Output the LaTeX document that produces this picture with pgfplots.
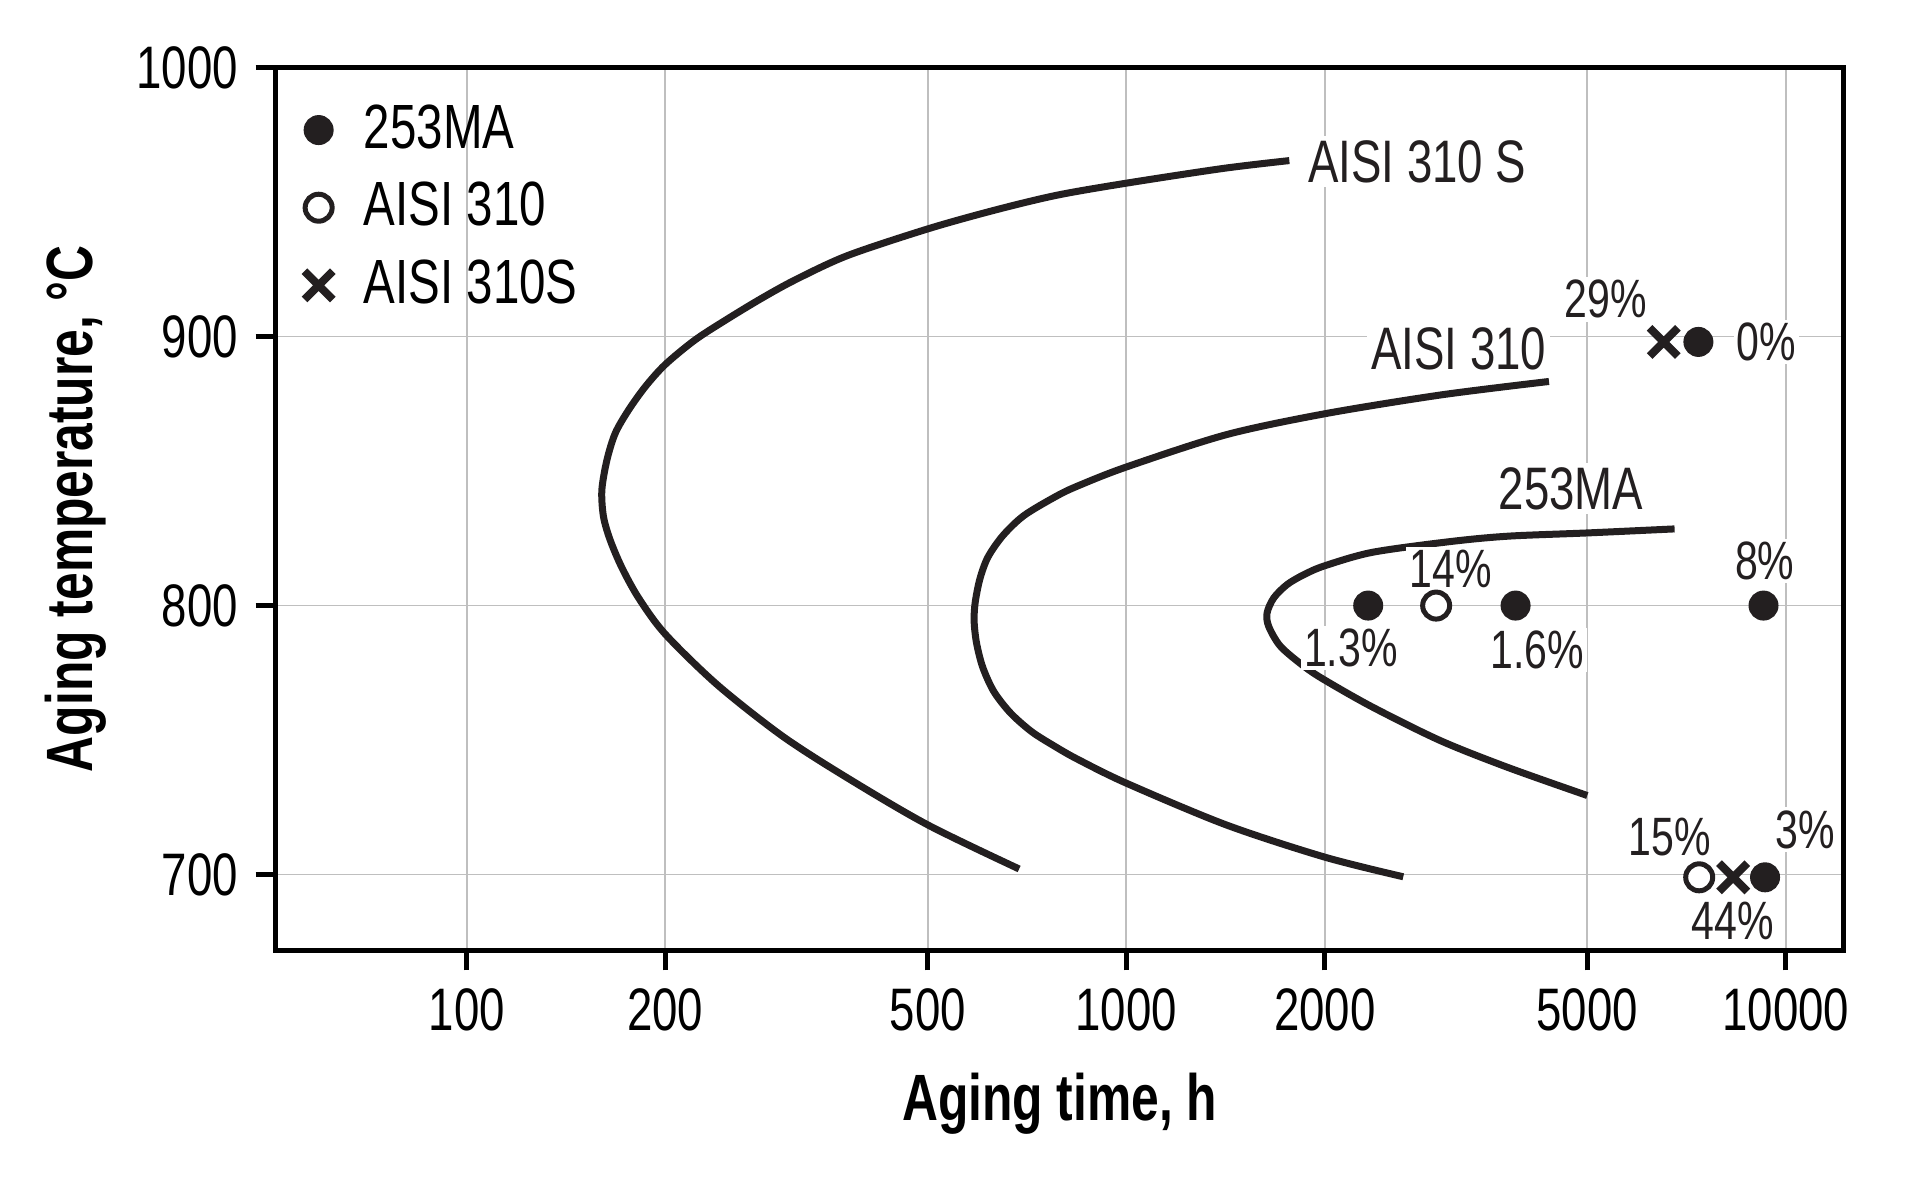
\documentclass[border=0pt]{standalone}
\usepackage{fontspec}
\setmainfont{Liberation Sans}[FakeStretch=0.76]
\usepackage{pgfplots}
\pgfplotsset{compat=1.18}
\definecolor{ink}{RGB}{35,31,32}
\begin{document}
\begin{tikzpicture}
\path[use as bounding box] (-55.1pt,-48.4pt) rectangle (328.9pt,190.1pt);
\begin{axis}[
  anchor=south west, at={(0pt,0pt)},
  width=313.7pt, height=176.6pt, scale only axis,
  xmode=log, xmin=51.3, xmax=12250, ymin=671.8, ymax=1000,
  xtick={100,200,500,1000,2000,5000,10000},
  xticklabels={100,200,500,1000,2000,5000,10000},
  ytick={700,800,900,1000}, yticklabels={700,800,900,1000},
  minor xtick={}, minor ytick={},
  tick pos=left, tick align=outside, major tick length=4pt,
  major tick style={black, line width=1pt},
  axis line style={black, line width=1pt},
  grid=major, major grid style={line width=0.35pt, draw=black!25},
  tick label style={font=\fontsize{12}{14}\selectfont},
  xlabel={Aging time, h}, ylabel={Aging temperature, °C},
  label style={font=\bfseries\fontsize{13.1}{15}\selectfont},
  xlabel style={at={(axis description cs:0.5,-0.1925)}, anchor=base},
  ylabel style={at={(axis description cs:-0.1167,0.5)}, anchor=base},
  legend style={at={(axis description cs:0,1)}, anchor=north west, xshift=3.8pt, yshift=-3.4pt,
    draw=none, fill=none, inner sep=2pt, outer sep=0pt, row sep=1.3pt,
    font=\fontsize{12.5}{14}\selectfont,
    /tikz/every odd column/.append style={column sep=4.2pt}},
  legend cell align=left,
  legend image code/.code={\draw[#1] plot coordinates {(0pt,0pt)};},
  every node/.append style={inner sep=0.8pt},
]
% AISI 310 S curve
\addplot[ink, line width=1.4pt, smooth, forget plot] coordinates {
(1767,965.4) (1404,962.5) (1000,957) (784,952.5) (630,946.9) (500,940) (378,930.1)
(315,921.1) (280.4,914.3) (249.5,906.8) (222.1,898.8) (200,889.6) (186.6,881.4)
(176,872.7) (168,864.1) (163.2,854.2) (160.3,843) (161.2,833.1) (165,824.4)
(171.9,814.1) (182.4,802.7) (200,789.4) (240,770.5) (301,751.5) (378,735.9)
(500,718.5) (688,702.1)};
% AISI 310 curve
\addplot[ink, line width=1.4pt, smooth, forget plot] coordinates {
(4374,883.3) (3000,878.3) (2000,871.3) (1417,863.5) (1000,851.5) (845,844.5) (784,840.7)
(700,833.5) (650,826) (617,818) (600,810) (590,801) (588,794) (593,786) (606,777)
(630,768) (668,760) (720,753) (784,747.3) (845,742.8) (1000,734) (1417,718.5)
(2000,706.5) (2630,699.2)};
% 253MA curve
\addplot[ink, line width=1.4pt, smooth, forget plot] coordinates {
(6782,828.5) (5000,827) (3793,825.8) (3101,823.8) (2361,819.8) (2000,814.8)
(1863,811.6) (1755,807.9) (1674,802.9) (1635,797.3) (1644,792.3) (1714,784.8)
(1863,777.3) (2000,772.3) (2361,762.3) (2994,749.8) (3793,739.8) (5000,729.4)};
% data points
\addplot[only marks, mark=*, mark size=2.8pt, draw=ink, fill=ink] coordinates {
(2327,800) (3893,800) (9250,800) (7370,898) (9300,699)};
\addlegendentry{253MA}
\addplot[only marks, mark=*, mark size=2.7pt, draw=ink, fill=white, mark options={line width=1pt}] coordinates {
(2950,800) (7390,699)};
\addlegendentry{AISI 310}
\addplot[only marks, mark=x, mark size=4pt, draw=ink, mark options={line width=1.6pt}] coordinates {
(6530,898) (8320,699)};
\addlegendentry{AISI 310S}
% curve labels
\begin{scope}[every node/.style={fill=white, inner sep=0.8pt, font=\fontsize{12}{14}\selectfont, text=ink}]
\node at (axis cs:2761,965) {AISI 310 S};
\node at (axis cs:3193,895.3) {AISI 310};
\node at (axis cs:4724,843.5) {253MA};
\end{scope}
\begin{scope}[every node/.style={fill=white, inner sep=0.6pt, font=\fontsize{10.8}{12}\selectfont, text=ink}]
\node at (axis cs:5328,913.8) {29\%};
\node at (axis cs:9344,898) {0\%};
\node at (axis cs:3101,813.5) {14\%};
\node at (axis cs:2190,784.1) {1.3\%};
\node at (axis cs:4196,783.5) {1.6\%};
\node at (axis cs:9290,816.7) {8\%};
\node at (axis cs:6673,713.8) {15\%};
\node at (axis cs:10708,716.8) {3\%};
\node at (axis cs:8313,682.7) {44\%};
\end{scope}
\end{axis}
\end{tikzpicture}
\end{document}
